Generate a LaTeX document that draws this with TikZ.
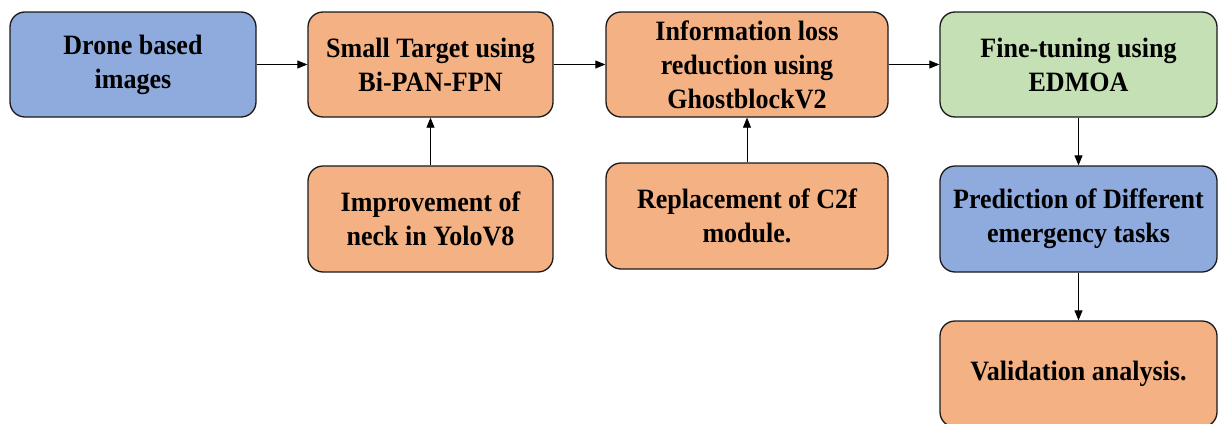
\documentclass[tikz,border=0pt]{standalone}
\usepackage{fontspec}
\setmainfont{Liberation Serif}
\newfontfamily\boxfont{Liberation Serif}[FakeStretch=0.93]
\usetikzlibrary{arrows.meta}
\definecolor{boxblue}{HTML}{8FAADC}
\definecolor{boxorange}{HTML}{F4B183}
\definecolor{boxgreen}{HTML}{C5E0B4}
\definecolor{edge}{HTML}{1A1A1A}
\begin{document}
\begin{tikzpicture}[x=1pt,y=-1pt,
  box/.style={draw=edge, line width=1.3pt, rounded corners=15pt, inner sep=0pt,
    align=center, font=\boxfont\fontsize{28}{34}\selectfont\bfseries},
  conn/.style={draw=black, line width=0.8pt, -{Triangle[length=10pt,width=8pt]}}]
\clip (0,0) rectangle (1218,423);
\node[box, fill=boxblue, minimum width=246pt, minimum height=105pt] (drone) at (133,64.5) {Drone based\\images};
\node[box, fill=boxorange, minimum width=245pt, minimum height=105pt] (small) at (430.5,64.5) {Small Target using\\Bi-PAN-FPN};
\node[box, fill=boxorange, minimum width=282pt, minimum height=105pt] (info) at (747,64.5) {Information loss\\reduction using\\GhostblockV2};
\node[box, fill=boxgreen, minimum width=277pt, minimum height=105pt] (fine) at (1078.5,64.5) {Fine-tuning using\\EDMOA};
\node[box, fill=boxorange, minimum width=245pt, minimum height=106pt] (neck) at (430.5,219) {Improvement of\\neck in YoloV8};
\node[box, fill=boxorange, minimum width=282pt, minimum height=106pt] (c2f) at (747,216) {Replacement of C2f\\module.};
\node[box, fill=boxblue, minimum width=277pt, minimum height=106pt] (pred) at (1078.5,219) {Prediction of Different\\emergency tasks};
\node[box, fill=boxorange, minimum width=277pt, minimum height=106pt] (valid) at (1078.5,374) {Validation analysis.};
\draw[conn] (drone) -- (small);
\draw[conn] (small) -- (info);
\draw[conn] (info) -- (fine);
\draw[conn] (neck) -- (small);
\draw[conn] (c2f) -- (info);
\draw[conn] (fine) -- (pred);
\draw[conn] (pred) -- (valid);
\end{tikzpicture}
\end{document}
